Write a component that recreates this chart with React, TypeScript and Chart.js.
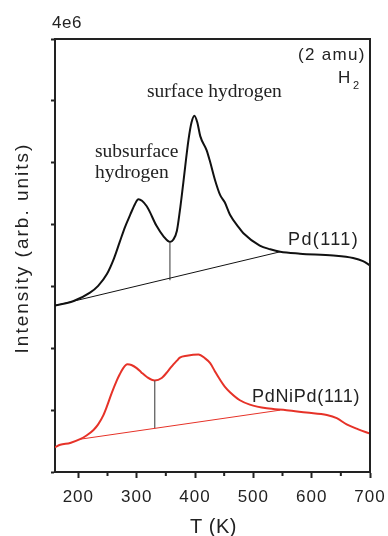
import React, { useEffect, useRef } from "react";
import { Chart, registerables } from "chart.js";

Chart.register(...registerables);

// Pd(111) TPD curve (intensity in units used on the y scale)
const pdTemp = [160, 191, 220, 234, 249, 261, 271, 280, 289, 297, 303, 317, 334, 346, 357, 363, 369, 374, 380, 389, 394, 399, 404, 409, 420, 426, 434, 443, 451, 460, 477, 483, 511, 529, 546, 580, 637, 671, 688, 700];
const pdIntensity = [2.69, 2.76, 2.9, 3.01, 3.2, 3.45, 3.72, 3.96, 4.16, 4.33, 4.41, 4.3, 3.98, 3.81, 3.72, 3.76, 3.9, 4.22, 4.68, 5.38, 5.65, 5.76, 5.65, 5.43, 5.2, 5.01, 4.73, 4.48, 4.36, 4.16, 3.93, 3.86, 3.66, 3.6, 3.56, 3.53, 3.5, 3.46, 3.41, 3.34];
const pdBaseTemp = [160, 546];
const pdBaseIntensity = [2.69, 3.56];
const pdMarkTemp = [357, 357];
const pdMarkIntensity = [3.1, 3.72];

// PdNiPd(111) TPD curve
const pdniTemp = [160, 169, 186, 203, 214, 226, 234, 243, 249, 257, 266, 271, 277, 284, 291, 300, 308, 317, 331, 343, 351, 357, 363, 369, 374, 386, 406, 417, 426, 434, 443, 451, 460, 477, 494, 523, 557, 591, 626, 643, 660, 680, 700];
const pdniIntensity = [0.4, 0.44, 0.47, 0.53, 0.59, 0.68, 0.77, 0.92, 1.06, 1.27, 1.48, 1.58, 1.68, 1.74, 1.73, 1.68, 1.61, 1.54, 1.48, 1.52, 1.6, 1.67, 1.74, 1.8, 1.85, 1.88, 1.9, 1.84, 1.76, 1.63, 1.49, 1.38, 1.29, 1.16, 1.09, 1.03, 1.0, 0.96, 0.92, 0.87, 0.77, 0.69, 0.62];
const pdniBaseTemp = [203, 546];
const pdniBaseIntensity = [0.53, 1.0];
const pdniMarkTemp = [331, 331];
const pdniMarkIntensity = [0.705, 1.48];

// axes
const xMin = 160;
const xMax = 700;
const xStep = 100;
const xMinorTicks = [250, 350, 450, 550, 650];
const yMin = 0;
const yMax = 7;
const yStep = 1;
const yOffsetLabel = "4e6";

const pts = (xs: number[], ys: number[]) => xs.map((x, i) => ({ x, y: ys[i] }));

const SANS = "'Liberation Sans', Arial, sans-serif";
const SERIF = "'Liberation Serif', 'Times New Roman', serif";
const INK = "#222";

function drawText(ctx: any, s: string, x: number, y: number, font: string, ls: number, align = "left") {
  ctx.font = font;
  ctx.letterSpacing = ls + "px";
  ctx.textAlign = align;
  ctx.textBaseline = "alphabetic";
  ctx.fillText(s, x, y);
}

const decorPlugin = {
  id: "decor",
  beforeDraw(chart: any) {
    chart.ctx.letterSpacing = "1px";
  },
  afterDraw(chart: any) {
    const ctx = chart.ctx;
    const { left, right, top, bottom } = chart.chartArea;
    ctx.save();
    ctx.strokeStyle = INK;
    ctx.lineWidth = 2;
    ctx.beginPath();
    ctx.moveTo(left - 1, top);
    ctx.lineTo(right, top);
    ctx.lineTo(right, bottom);
    const xs = chart.scales.x;
    xMinorTicks.forEach((v) => {
      const px = xs.getPixelForValue(v);
      ctx.moveTo(px, bottom);
      ctx.lineTo(px, bottom + 4);
    });
    ctx.stroke();

    ctx.fillStyle = INK;
    drawText(ctx, yOffsetLabel, 52, 28, `17px ${SANS}`, 0.5);
    drawText(ctx, "(2 amu)", 298, 60, `17px ${SANS}`, 1.3);
    drawText(ctx, "H", 338, 83, `17px ${SANS}`, 0.5);
    drawText(ctx, "2", 353, 89, `11px ${SANS}`, 0);
    drawText(ctx, "surface hydrogen", 147, 97, `19.5px ${SERIF}`, 0);
    drawText(ctx, "subsurface", 95, 157, `19.5px ${SERIF}`, 0);
    drawText(ctx, "hydrogen", 95, 178, `19.5px ${SERIF}`, 0);
    drawText(ctx, "Pd(111)", 288, 245, `18px ${SANS}`, 1.4);
    drawText(ctx, "PdNiPd(111)", 252, 402, `18px ${SANS}`, 0.7);
    drawText(ctx, "T (K)", (left + right) / 2 + 1, 533, `20px ${SANS}`, 0.5, "center");

    ctx.save();
    ctx.translate(28, 249);
    ctx.rotate(-Math.PI / 2);
    drawText(ctx, "Intensity (arb. units)", 1, 0, `19px ${SANS}`, 2, "center");
    ctx.restore();

    ctx.restore();
    ctx.letterSpacing = "0px";
  },
};

export default function App() {
  const ref = useRef<HTMLCanvasElement | null>(null);

  useEffect(() => {
    if (!ref.current) return;
    const red = "#e63228";
    const chart = new Chart(ref.current, {
      type: "line",
      data: {
        datasets: [
          { data: pts(pdBaseTemp, pdBaseIntensity), borderColor: "#111", borderWidth: 1, tension: 0 },
          { data: pts(pdMarkTemp, pdMarkIntensity), borderColor: "#555", borderWidth: 1.2, tension: 0 },
          { data: pts(pdTemp, pdIntensity), borderColor: "#111", borderWidth: 2, cubicInterpolationMode: "monotone" },
          { data: pts(pdniBaseTemp, pdniBaseIntensity), borderColor: red, borderWidth: 1, tension: 0 },
          { data: pts(pdniMarkTemp, pdniMarkIntensity), borderColor: "#555", borderWidth: 1.2, tension: 0 },
          { data: pts(pdniTemp, pdniIntensity), borderColor: red, borderWidth: 2, cubicInterpolationMode: "monotone" },
        ] as any,
      },
      options: {
        responsive: false,
        animation: false,
        devicePixelRatio: 1,
        layout: { padding: { top: 39, right: 18, left: 0, bottom: 0 } },
        elements: { point: { radius: 0 } },
        plugins: { legend: { display: false }, tooltip: { enabled: false } },
        scales: {
          x: {
            type: "linear",
            min: xMin,
            max: xMax,
            afterFit: (s: any) => {
              s.height = 64;
              s.paddingLeft = 0;
              s.paddingRight = 0;
            },
            ticks: {
              stepSize: xStep,
              includeBounds: false,
              padding: 9,
              color: INK,
              font: { size: 17, family: SANS },
              maxRotation: 0,
            },
            grid: { drawOnChartArea: false, drawTicks: true, tickLength: 6, tickWidth: 2, tickColor: INK },
            border: { display: true, width: 2, color: INK },
          },
          y: {
            type: "linear",
            min: yMin,
            max: yMax,
            afterFit: (s: any) => {
              s.width = 55;
              s.paddingTop = 0;
              s.paddingBottom = 0;
            },
            ticks: { stepSize: yStep, display: false },
            grid: { drawOnChartArea: false, drawTicks: true, tickLength: 4, tickWidth: 2, tickColor: INK },
            border: { display: true, width: 2, color: INK },
          },
        } as any,
      },
      plugins: [decorPlugin],
    });
    return () => chart.destroy();
  }, []);

  return (
    <div style={{ position: "absolute", left: 0, top: 0, width: 388, height: 536, background: "#fff" }}>
      <canvas ref={ref} width={388} height={536} style={{ width: 388, height: 536, display: "block" }} />
    </div>
  );
}
